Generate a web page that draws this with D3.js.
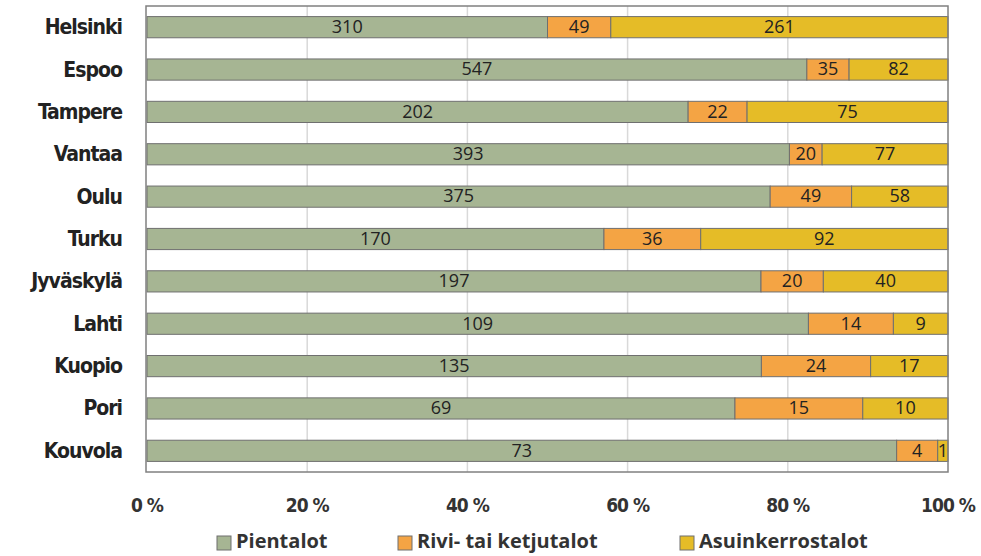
<!DOCTYPE html>
<html><head><meta charset="utf-8">
<script src="https://cdn.jsdelivr.net/npm/d3@7"></script>
<style>body{margin:0;background:#fff}</style>
</head><body>
<svg id="c" width="981" height="556"></svg>
<script>
const categories = ["Helsinki","Espoo","Tampere","Vantaa","Oulu","Turku","Jyväskylä","Lahti","Kuopio","Pori","Kouvola"];
const pientalot = [310,547,202,393,375,170,197,109,135,69,73];
const rivi = [49,35,22,20,49,36,20,14,24,15,4];
const asuin = [261,82,75,77,58,92,40,9,17,10,1];
const seriesNames = ["Pientalot","Rivi- tai ketjutalot","Asuinkerrostalot"];
const colors = ["#a6b593","#f4a444","#e5bc27"];
const ticks = [0,0.2,0.4,0.6,0.8,1];

const svg = d3.select("#c");
const L=147,R=948,T=6,B=472;
const x = d3.scaleLinear().domain([0,1]).range([L,R]);
const y = d3.scaleBand().domain(categories).range([T,B]).paddingInner(0.5).paddingOuter(0.25);

svg.append("g").selectAll("line").data(ticks.slice(1,-1)).join("line")
  .attr("x1",d=>x(d)).attr("x2",d=>x(d)).attr("y1",T).attr("y2",B)
  .attr("stroke","#d9d9d9").attr("stroke-width",1.5);

const rows = categories.map((c,i)=>{
  const v=[pientalot[i],rivi[i],asuin[i]]; const tot=d3.sum(v);
  let acc=0; return v.map((val,k)=>{const s=acc/tot; acc+=val; return {c,k,val,x0:s,x1:acc/tot};});
}).flat();

svg.append("g").selectAll("rect").data(rows).join("rect")
  .attr("x",d=>x(d.x0)).attr("width",d=>x(d.x1)-x(d.x0))
  .attr("y",d=>y(d.c)).attr("height",y.bandwidth())
  .attr("fill",d=>colors[d.k]).attr("stroke","#6f6f6f").attr("stroke-width",1);

svg.append("g").selectAll("text").data(rows).join("text")
  .attr("x",d=>(x(d.x0)+x(d.x1))/2).attr("y",d=>y(d.c)+y.bandwidth()/2+1)
  .attr("text-anchor","middle").attr("dominant-baseline","middle")
  .attr("font-family","Open Sans, Liberation Sans, sans-serif").attr("font-size",18).attr("fill","#222")
  .text(d=>d.val);

svg.append("rect").attr("x",L-1).attr("y",T).attr("width",R-L+1).attr("height",B-T)
  .attr("fill","none").attr("stroke","#808080").attr("stroke-width",1.5);

svg.append("g").selectAll("text").data(categories).join("text")
  .attr("x",122).attr("y",d=>y(d)+y.bandwidth()/2+1)
  .attr("text-anchor","end").attr("dominant-baseline","middle")
  .attr("font-family","DejaVu Sans Condensed, DejaVu Sans, sans-serif").attr("font-weight","bold").attr("font-size",21)
  .attr("letter-spacing",-1).attr("fill","#222").text(d=>d);

svg.append("g").selectAll("text").data(ticks).join("text")
  .attr("x",d=>x(d)).attr("y",506).attr("text-anchor","middle").attr("dominant-baseline","middle")
  .attr("font-family","DejaVu Sans Condensed, DejaVu Sans, sans-serif").attr("font-weight","bold").attr("font-size",19)
  .attr("letter-spacing",-1).attr("fill","#333").text(d=>Math.round(d*100)+" %");

const legX=[217,398,680];
const lg=svg.append("g").selectAll("g").data(seriesNames).join("g")
  .attr("transform",(d,i)=>`translate(${legX[i]},543)`);
lg.append("rect").attr("x",0).attr("y",-7).attr("width",14).attr("height",14)
  .attr("fill",(d,i)=>colors[i]).attr("stroke","#6f6f6f");
lg.append("text").attr("x",19).attr("y",0).attr("dominant-baseline","middle")
  .attr("font-family","Open Sans, sans-serif").attr("font-weight","bold").attr("font-size",20)
  .attr("fill","#333").text(d=>d);
</script>
</body></html>
